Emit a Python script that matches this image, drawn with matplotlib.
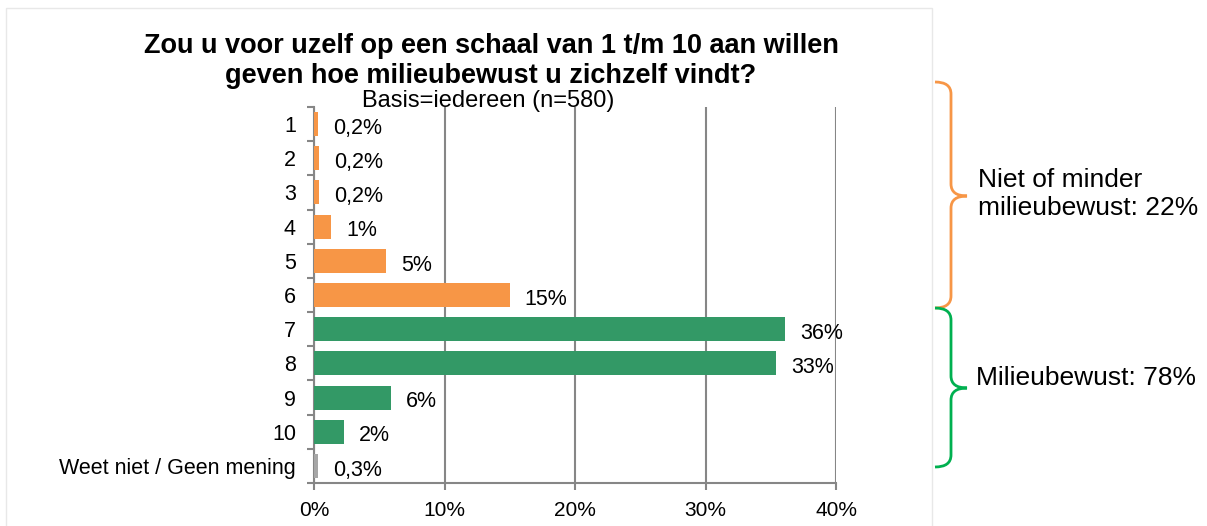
import matplotlib
matplotlib.use("Agg")
import matplotlib.pyplot as plt
from matplotlib.path import Path
from matplotlib.patches import PathPatch, Rectangle

plt.rcParams['font.family'] = ['Liberation Sans', 'DejaVu Sans']

categories = ['1', '2', '3', '4', '5', '6', '7', '8', '9', '10',
              'Weet niet / Geen mening']
values = [0.3, 0.4, 0.4, 1.3, 5.5, 15.0, 36.1, 35.4, 5.9, 2.3, 0.3]
value_labels = ['0,2%', '0,2%', '0,2%', '1%', '5%', '15%', '36%', '33%',
                '6%', '2%', '0,3%']
groups = ['low'] * 6 + ['high'] * 4 + ['dk']
group_colors = {'low': '#F79646', 'high': '#339966', 'dk': '#A6A6A6'}

title = ('Zou u voor uzelf op een schaal van 1 t/m 10 aan willen\n'
         'geven hoe milieubewust u zichzelf vindt?')
subtitle = 'Basis=iedereen (n=580)'
brace_texts = ['Niet of minder\nmilieubewust: 22%', 'Milieubewust: 78%']
brace_colors = ['#F79646', '#00B050']

W, H = 1207, 526
fig = plt.figure(figsize=(W / 100, H / 100), dpi=100)
ax = fig.add_axes([314 / W, 1 - 483 / H, (836 - 314) / W, (483 - 107) / H])

y = list(range(len(categories)))
ax.barh(y, values, height=0.7, color=[group_colors[g] for g in groups],
        zorder=3)
for yi, v, lab in zip(y, values, value_labels):
    ax.text(v + 1.15, yi + 0.05, lab, va='center_baseline', ha='left',
            fontsize=15.5)

ax.set_xlim(0, 40)
ax.set_ylim(len(categories) - 0.5, -0.5)
ax.set_xticks([0, 10, 20, 30, 40])
ax.set_xticklabels(['0%', '10%', '20%', '30%', '40%'], fontsize=15)
ax.set_yticks(y)
ax.set_yticklabels(categories, fontsize=15.5)
ax.set_yticks([i - 0.5 for i in range(len(categories) + 1)], minor=True)
ax.tick_params(axis='y', which='major', length=0, pad=13)
ax.tick_params(axis='y', which='minor', length=5, color='#868686', width=1.5)
ax.tick_params(axis='x', length=5, color='#868686', width=1.5, pad=8)
ax.grid(axis='x', color='#868686', linewidth=1.5, zorder=0)
for s in ['top', 'right']:
    ax.spines[s].set_visible(False)
for s in ['left', 'bottom']:
    ax.spines[s].set_color('#868686')
    ax.spines[s].set_linewidth(1.5)

# outer frame
fig.patches.append(Rectangle((6 / W, -0.1), (932 - 6) / W, 1.1 - 8 / H,
                             transform=fig.transFigure, fill=False,
                             edgecolor='#E8E8E8', linewidth=1))

fig.text(491 / W, 1 - 61 / H, title, ha='center', va='center',
         fontsize=19.5, fontweight='bold', linespacing=1.2)
fig.text(488 / W, 1 - 101 / H, subtitle, ha='center', va='center',
         fontsize=17)


def brace(x0, ytop, ybot, ytip, color):
    # pixel coordinates, y downwards
    xm, xt, r = x0 + 16, x0 + 32, 12
    pts = [(x0, ytop), (xm, ytop), (xm, ytop + r), (xm, ytip - r),
           (xm, ytip), (xt, ytip), (xm, ytip), (xm, ytip + r),
           (xm, ybot - r), (xm, ybot), (x0, ybot)]
    codes = [Path.MOVETO, Path.CURVE3, Path.CURVE3, Path.LINETO,
             Path.CURVE3, Path.CURVE3, Path.CURVE3, Path.CURVE3,
             Path.LINETO, Path.CURVE3, Path.CURVE3]
    pts = [(px / W, 1 - py / H) for px, py in pts]
    fig.patches.append(PathPatch(Path(pts, codes), transform=fig.transFigure,
                                 fill=False, edgecolor=color, linewidth=2))


brace(935, 82, 308, 196, brace_colors[0])
brace(935, 308, 467, 388, brace_colors[1])
fig.text(978 / W, 1 - 194 / H, brace_texts[0], ha='left', va='center',
         fontsize=19, linespacing=1.25)
fig.text(976 / W, 1 - 378 / H, brace_texts[1], ha='left', va='center',
         fontsize=19)

fig.savefig('out.png', dpi=100)
